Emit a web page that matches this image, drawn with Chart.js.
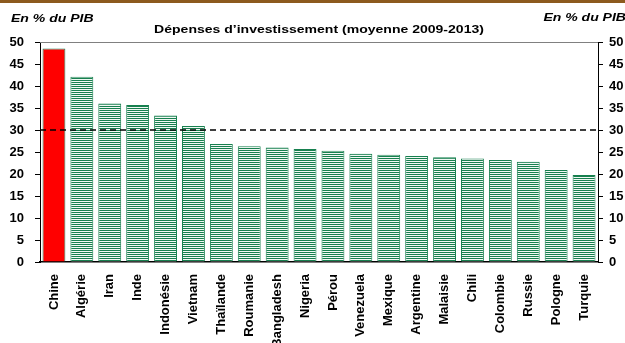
<!DOCTYPE html>
<html>
<head>
<meta charset="utf-8">
<script src="https://cdn.jsdelivr.net/npm/chart.js"></script>
<style>
  body { margin: 0; background: #fff; }
  #wrap { width: 625px; height: 343px; }
</style>
</head>
<body>
<div id="wrap"><canvas id="chart" width="625" height="343"></canvas></div>
<script>
// Dépenses d'investissement, moyenne 2009-2013, en % du PIB
const pays = ["Chine", "Algérie", "Iran", "Inde", "Indonésie", "Vietnam", "Thaïlande", "Roumanie",
  "Bangladesh", "Nigeria", "Pérou", "Venezuela", "Mexique", "Argentine", "Malaisie", "Chili",
  "Colombie", "Russie", "Pologne", "Turquie"];
const investissement = [48.5, 42.1, 36.0, 35.7, 33.3, 30.9, 26.8, 26.3, 26.0, 25.7, 25.3, 24.6,
  24.4, 24.1, 23.8, 23.5, 23.2, 22.8, 20.9, 19.8];
const seuil = 30;
const paysEnAvant = "Chine";
const titre = "Dépenses d\u2019investissement (moyenne 2009-2013)";
const unite = "En % du PIB";

const VERT = "#17804f";
const ROUGE = "#ff0000";

// hachures horizontales : 1px vert, 1px blanc
function makeStripes() {
  const c = document.createElement("canvas");
  c.width = 4; c.height = 2;
  const g = c.getContext("2d");
  g.fillStyle = "#f2f8f4"; g.fillRect(0, 0, 4, 2);
  g.fillStyle = VERT; g.fillRect(0, 0, 4, 1);
  return g.createPattern(c, "repeat");
}
const stripes = makeStripes();

const textStretch = 1.22;
function stretchedText(ctx, txt, x, y, font, align) {
  ctx.save();
  ctx.font = font;
  ctx.fillStyle = "#000";
  ctx.textBaseline = "alphabetic";
  const w = ctx.measureText(txt).width * textStretch;
  let x0 = x;
  if (align === "center") x0 = x - w / 2;
  if (align === "right") x0 = x - w;
  ctx.translate(x0, y);
  ctx.scale(textStretch, 1);
  ctx.textAlign = "left";
  ctx.fillText(txt, 0, 0);
  ctx.restore();
}

const decor = {
  id: "decor",
  beforeDraw(chart) {
    const ctx = chart.ctx;
    ctx.save();
    ctx.fillStyle = "#fff";
    ctx.fillRect(0, 0, chart.width, chart.height);
    ctx.fillStyle = "#8c5a1e";
    ctx.fillRect(0, 0, chart.width, 3);
    ctx.restore();
  },
  afterDatasetsDraw(chart) {
    const ctx = chart.ctx;
    const a = chart.chartArea;
    const y = chart.scales.y.getPixelForValue(seuil);
    ctx.save();
    // ligne de cadre en haut
    ctx.strokeStyle = "#808080";
    ctx.lineWidth = 1;
    ctx.beginPath();
    ctx.moveTo(a.left, a.top + 0.5);
    ctx.lineTo(a.right, a.top + 0.5);
    ctx.stroke();
    // seuil à 30 %
    ctx.strokeStyle = "#000";
    ctx.lineWidth = 1.5;
    ctx.setLineDash([6, 4]);
    ctx.beginPath();
    ctx.moveTo(a.left, y);
    ctx.lineTo(a.right, y);
    ctx.stroke();
    ctx.restore();
  },
  afterDraw(chart) {
    const ctx = chart.ctx;
    const a = chart.chartArea;
    stretchedText(ctx, unite, 11, 21.5, "italic bold 11.5px 'Liberation Sans', Arial, sans-serif", "left");
    stretchedText(ctx, unite, 626, 21, "italic bold 11.5px 'Liberation Sans', Arial, sans-serif", "right");
    stretchedText(ctx, titre, (a.left + a.right) / 2, 33, "bold 11.5px 'Liberation Sans', Arial, sans-serif", "center");
  }
};

const tickFont = { family: "'Liberation Sans', Arial, sans-serif", size: 13, weight: "bold" };

function yAxis(position, width, pad) {
  return {
    display: true,
    position: position,
    min: 0, max: 50,
    ticks: { stepSize: 5, color: "#000", font: tickFont, padding: pad },
    grid: { drawOnChartArea: false, drawTicks: true, tickLength: 5, color: "#000" },
    border: { display: true, color: "#000", width: 1 },
    afterFit(scale) { scale.width = width; }
  };
}

new Chart(document.getElementById("chart"), {
  type: "bar",
  data: {
    labels: pays,
    datasets: [{
      data: investissement,
      backgroundColor: pays.map(p => p === paysEnAvant ? ROUGE : stripes),
      borderColor: VERT,
      borderWidth: 1,
      barPercentage: 0.82,
      categoryPercentage: 1.0,
      yAxisID: "y"
    }]
  },
  options: {
    responsive: false,
    animation: false,
    layout: { padding: { top: 42, left: 0, right: 0, bottom: 0 } },
    plugins: { legend: { display: false }, tooltip: { enabled: false }, title: { display: false } },
    scales: {
      x: {
        grid: { display: false },
        border: { display: true, color: "#000", width: 1.5 },
        ticks: { color: "#000", font: tickFont, minRotation: 90, maxRotation: 90, autoSkip: false, padding: 4 },
        afterFit(scale) { scale.height = 81; }
      },
      y: yAxis("left", 40, 11),
      y2: yAxis("right", 27, 6)
    }
  },
  plugins: [decor]
});
</script>
</body>
</html>
